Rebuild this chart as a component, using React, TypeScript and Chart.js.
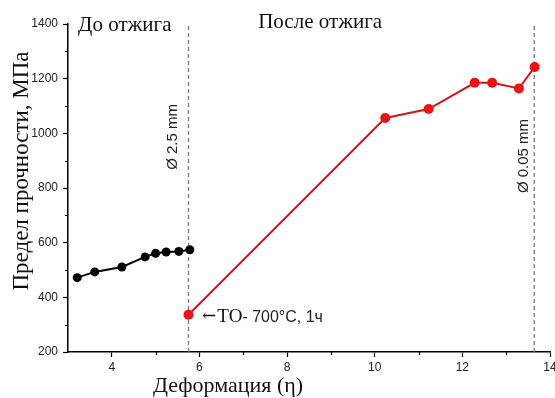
import React, { useEffect, useRef } from "react";
import { Chart, registerables } from "chart.js";

Chart.register(...registerables);

// ---- data ----
const beforeX = [3.21, 3.61, 4.23, 4.76, 5.0, 5.24, 5.53, 5.78];
const beforeY = [472, 493, 511, 548, 561, 566, 568, 574];
const afterX = [5.75, 10.24, 11.23, 12.28, 12.68, 13.29, 13.65];
const afterY = [336, 1056, 1089, 1185, 1185, 1164, 1243];
const markerX = [5.75, 13.64];
const xTicks = [4, 6, 8, 10, 12, 14];
const xMinorTicks = [5, 7, 9, 11, 13];
const yTicks = [200, 400, 600, 800, 1000, 1200, 1400];
const yMinorTicks = [300, 500, 700, 900, 1100, 1300];
const xTitle = "Деформация (η)";
const yTitle = "Предел прочности, МПа";
const labelBefore = "До отжига";
const labelAfter = "После отжига";
const labelDiamStart = "Ø 2.5 mm";
const labelDiamEnd = "Ø 0.05 mm";
const labelArrow = "←";
const labelTOSerif = "ТО";
const labelTOSans = "- 700°C, 1ч";

const SERIF = '"Liberation Serif", "Times New Roman", serif';
const SANS = '"Liberation Sans", Arial, sans-serif';

const extrasPlugin = {
  id: "extras",
  afterDraw(chart: any) {
    const { ctx, scales } = chart;
    const xs = scales.x;
    const ys = scales.y;
    const ca = chart.chartArea;
    ctx.save();
    // minor ticks
    ctx.strokeStyle = "#000";
    ctx.lineWidth = 1.2;
    ctx.beginPath();
    xMinorTicks.forEach((v) => {
      const px = Math.round(xs.getPixelForValue(v)) + 0.5;
      ctx.moveTo(px, ca.bottom);
      ctx.lineTo(px, ca.bottom + 3);
    });
    yMinorTicks.forEach((v) => {
      const py = Math.round(ys.getPixelForValue(v)) + 0.5;
      ctx.moveTo(ca.left - 3, py);
      ctx.lineTo(ca.left, py);
    });
    ctx.stroke();

    ctx.fillStyle = "#111";
    // region labels
    ctx.font = `21px ${SERIF}`;
    ctx.textAlign = "left";
    ctx.textBaseline = "alphabetic";
    ctx.fillText(labelBefore, xs.getPixelForValue(3.23), ys.getPixelForValue(1374));
    ctx.fillText(labelAfter, xs.getPixelForValue(7.34), ys.getPixelForValue(1384));

    // diameter labels (rotated)
    ctx.font = `15px ${SANS}`;
    ctx.fillStyle = "#222";
    ctx.textAlign = "center";
    ctx.textBaseline = "middle";
    const rot = (text: string, vx: number, vy: number) => {
      ctx.save();
      ctx.translate(xs.getPixelForValue(vx), ys.getPixelForValue(vy));
      ctx.rotate(-Math.PI / 2);
      ctx.fillText(text, 0, 0);
      ctx.restore();
    };
    rot(labelDiamStart, 5.4, 987);
    rot(labelDiamEnd, 13.41, 917);

    // heat treatment label
    ctx.textAlign = "left";
    ctx.textBaseline = "alphabetic";
    ctx.fillStyle = "#111";
    let tx = xs.getPixelForValue(6.06);
    const ty = ys.getPixelForValue(310);
    ctx.font = `17px "DejaVu Serif", serif`;
    ctx.fillText(labelArrow, tx, ty - 1);
    tx += ctx.measureText(labelArrow).width + 1;
    ctx.font = `19px ${SERIF}`;
    ctx.fillText(labelTOSerif, tx, ty);
    tx += ctx.measureText(labelTOSerif).width;
    ctx.font = `16px ${SANS}`;
    ctx.fillStyle = "#222";
    ctx.fillText(labelTOSans, tx, ty);

    // axis titles
    ctx.fillStyle = "#111";
    ctx.font = `22px ${SERIF}`;
    ctx.textAlign = "center";
    ctx.textBaseline = "alphabetic";
    ctx.fillText(xTitle, 228, 392);
    ctx.save();
    ctx.font = `23px ${SERIF}`;
    ctx.translate(28, 171);
    ctx.rotate(-Math.PI / 2);
    ctx.fillText(yTitle, 0, 0);
    ctx.restore();

    ctx.restore();
  },
};

export default function App() {
  const ref = useRef<HTMLCanvasElement | null>(null);

  useEffect(() => {
    if (!ref.current) return;
    const toPts = (xsArr: number[], ysArr: number[]) => xsArr.map((x, i) => ({ x, y: ysArr[i] }));
    const dashSets = markerX.map((mx) => ({
      data: [
        { x: mx, y: 200 },
        { x: mx, y: 1400 },
      ],
      borderColor: "#7a7a7a",
      borderWidth: 1.3,
      borderDash: [4, 3],
      pointRadius: 0,
      showLine: true,
      order: 3,
    }));
    const chart = new Chart(ref.current, {
      type: "scatter",
      data: {
        datasets: [
          ...dashSets,
          {
            data: toPts(beforeX, beforeY),
            borderColor: "#000",
            backgroundColor: "#000",
            borderWidth: 2,
            pointRadius: 4.5,
            pointBorderWidth: 0,
            showLine: true,
            order: 1,
          },
          {
            data: toPts(afterX, afterY),
            borderColor: "#d4171c",
            backgroundColor: "#ee1111",
            borderWidth: 2,
            pointRadius: 5,
            pointBorderWidth: 0,
            showLine: true,
            order: 1,
          },
        ] as any,
      },
      options: {
        responsive: false,
        animation: false,
        layout: { padding: { top: 24, right: 15, left: 0, bottom: 0 } },
        plugins: { legend: { display: false }, tooltip: { enabled: false } },
        scales: {
          x: {
            type: "linear",
            min: 3,
            max: 14,
            afterBuildTicks: (axis: any) => {
              axis.ticks = xTicks.map((v) => ({ value: v }));
            },
            afterFit: (axis: any) => {
              axis.height = 46;
            },
            border: { display: true, color: "#000", width: 1.5 },
            grid: { display: true, drawOnChartArea: false, drawTicks: true, tickLength: 5, tickColor: "#000", tickWidth: 1.2 },
            ticks: { color: "#222", font: { family: SANS, size: 12 }, padding: 3, maxRotation: 0, autoSkip: false, callback: (v: any) => String(v) },
          },
          y: {
            type: "linear",
            min: 200,
            max: 1400,
            afterBuildTicks: (axis: any) => {
              axis.ticks = yTicks.map((v) => ({ value: v }));
            },
            afterFit: (axis: any) => {
              axis.width = 68;
            },
            border: { display: true, color: "#000", width: 1.5 },
            grid: { display: true, drawOnChartArea: false, drawTicks: true, tickLength: 5, tickColor: "#000", tickWidth: 1.2 },
            ticks: { color: "#222", font: { family: SANS, size: 12 }, padding: 5, autoSkip: false, callback: (v: any) => String(v) },
          },
        },
      },
      plugins: [extrasPlugin],
    });
    return () => chart.destroy();
  }, []);

  return (
    <div style={{ position: "absolute", left: 0, top: 0, width: 555, height: 398, overflow: "hidden", background: "#fff" }}>
      <canvas ref={ref} width={565} height={398} style={{ display: "block" }} />
    </div>
  );
}
